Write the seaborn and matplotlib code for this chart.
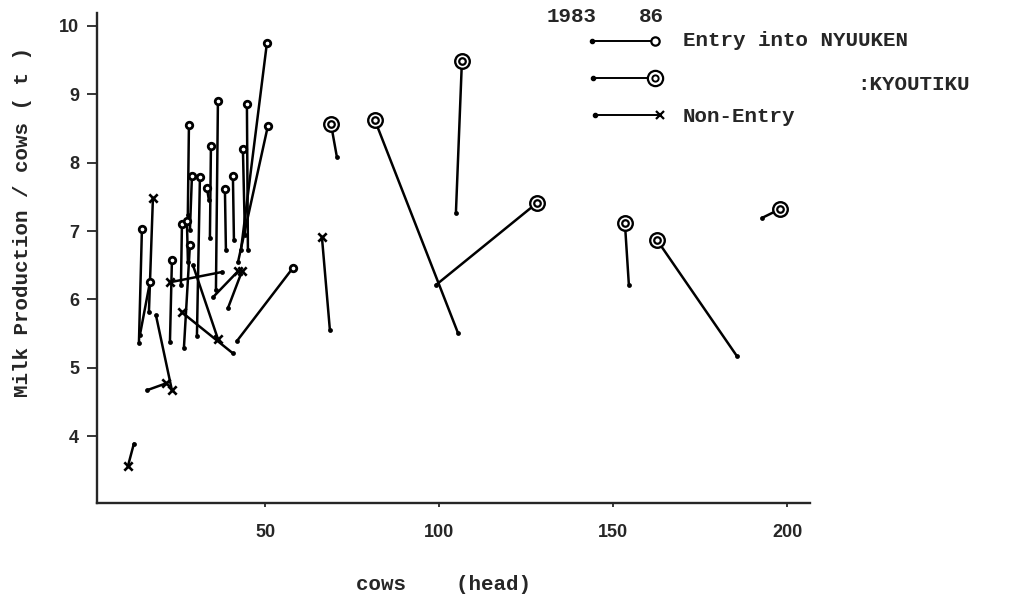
import numpy as np
import pandas as pd
import matplotlib
matplotlib.use("Agg")
import matplotlib.pyplot as plt
from matplotlib.lines import Line2D
import seaborn as sns

# each farm: position in 1983 (start) and 1986 (end)
# cows (head) and milk production per cow (t)
entry_cows_83 = [42.96, 42.10, 44.97, 44.11, 35.78, 27.70, 34.05, 40.95, 25.72, 26.58,
                 27.73, 22.56, 13.65, 13.94, 41.81, 28.30, 30.32, 33.76, 38.65]
entry_milk_83 = [6.72, 6.54, 6.72, 6.94, 6.13, 7.23, 6.90, 6.87, 6.21, 5.29,
                 6.54, 5.37, 5.36, 5.48, 5.39, 7.01, 5.47, 7.45, 6.72]
entry_cows_86 = [50.43, 50.72, 44.68, 43.53, 36.35, 28.02, 34.34, 40.66, 26.01, 28.30,
                 27.44, 23.13, 14.51, 16.81, 57.90, 28.88, 31.18, 33.19, 38.36]
entry_milk_86 = [9.75, 8.54, 8.86, 8.20, 8.90, 8.55, 8.24, 7.80, 7.10, 6.79,
                 7.14, 6.57, 7.03, 6.25, 6.46, 7.80, 7.79, 7.63, 7.61]

kyou_cows_83 = [70.55, 105.32, 104.74, 98.99, 154.45, 185.49, 192.67]
kyou_milk_83 = [8.08, 5.51, 7.26, 6.21, 6.21, 5.17, 7.19]
kyou_cows_86 = [68.82, 81.47, 106.47, 128.02, 153.30, 162.50, 197.84]
kyou_milk_86 = [8.57, 8.62, 9.49, 7.41, 7.12, 6.87, 7.32]

non_cows_83 = [16.52, 12.21, 18.53, 15.95, 29.17, 40.66, 39.22, 34.91, 68.53, 37.50]
non_milk_83 = [5.81, 3.89, 5.77, 4.67, 6.50, 5.21, 5.87, 6.03, 5.55, 6.40]
non_cows_86 = [17.67, 10.49, 23.13, 21.41, 36.35, 26.01, 43.25, 42.10, 66.24, 22.56]
non_milk_86 = [7.48, 3.56, 4.67, 4.77, 5.42, 5.81, 6.41, 6.41, 6.91, 6.25]

x_ticks = [50, 100, 150, 200]
y_ticks = [4, 5, 6, 7, 8, 9, 10]

W, H = 1034, 596
FONT = ["Liberation Mono", "DejaVu Sans Mono"]
TICKFONT = ["Liberation Sans Narrow", "Liberation Sans", "DejaVu Sans"]


def build_frame():
    groups = [
        ("entry", entry_cows_83, entry_milk_83, entry_cows_86, entry_milk_86),
        ("kyoutiku", kyou_cows_83, kyou_milk_83, kyou_cows_86, kyou_milk_86),
        ("non", non_cows_83, non_milk_83, non_cows_86, non_milk_86),
    ]
    rows = []
    for name, c83, m83, c86, m86 in groups:
        for i in range(len(c83)):
            farm = f"{name}_{i}"
            rows.append({"farm": farm, "group": name, "year": 1983, "cows": c83[i], "milk": m83[i]})
            rows.append({"farm": farm, "group": name, "year": 1986, "cows": c86[i], "milk": m86[i]})
    return pd.DataFrame(rows)


def px(x, y):
    # pixel position -> figure fraction
    return x / W, 1 - y / H


df = build_frame()

sns.set_style("ticks")
plt.rcParams["font.family"] = FONT
plt.rcParams["font.weight"] = "bold"

fig = plt.figure(figsize=(W / 100, H / 100), dpi=100)
ax = fig.add_axes([97 / W, 93 / H, 713 / W, 490 / H])

# 1983 -> 1986 segments
sns.lineplot(data=df, x="cows", y="milk", units="farm", estimator=None, sort=False,
             color="black", linewidth=1.8, legend=False, ax=ax)

start = df[df["year"] == 1983]
end = df[df["year"] == 1986]
sns.scatterplot(data=start, x="cows", y="milk", marker="o", s=12, color="black",
                edgecolor="black", linewidth=0, legend=False, ax=ax, zorder=3)

e = end[end["group"] == "entry"]
sns.scatterplot(data=e, x="cows", y="milk", marker="o", s=22, facecolor="white",
                edgecolor="black", linewidth=2.0, legend=False, ax=ax, zorder=4)

k = end[end["group"] == "kyoutiku"]
sns.scatterplot(data=k, x="cows", y="milk", marker="o", s=110, facecolor="white",
                edgecolor="black", linewidth=1.7, legend=False, ax=ax, zorder=4)
sns.scatterplot(data=k, x="cows", y="milk", marker="o", s=22, facecolor="white",
                edgecolor="black", linewidth=1.6, legend=False, ax=ax, zorder=5)

n = end[end["group"] == "non"]
sns.scatterplot(data=n, x="cows", y="milk", marker="x", s=36, color="black",
                linewidth=1.9, legend=False, ax=ax, zorder=4)

ax.set_xlim(1.6, 206.5)
ax.set_ylim(3.02, 10.19)
ax.set_xticks(x_ticks)
ax.set_yticks(y_ticks)
ax.set_xlabel("")
ax.set_ylabel("")
sns.despine(ax=ax)
for s in ["left", "bottom"]:
    ax.spines[s].set_linewidth(1.7)
ax.tick_params(axis="y", length=7, width=1.3, pad=6, labelsize=13)
ax.tick_params(axis="x", length=3, width=1.3, pad=12, labelsize=13)
for lab in ax.get_xticklabels() + ax.get_yticklabels():
    lab.set_family(TICKFONT)
    lab.set_fontweight("bold")

# axis titles
fig.text(*px(23, 222), "Milk Production / cows ( t )", rotation=90,
         ha="center", va="center", size=15)
fig.text(*px(356, 585), "cows    (head)", ha="left", va="center", size=15)

# legend drawn by hand
fig.text(*px(547, 17), "1983", ha="left", va="center", size=15)
fig.text(*px(639, 17), "86", ha="left", va="center", size=15)

rows = [
    (41, 592, 655, dict(marker="o", ms=6, mfc="white", mec="black", mew=1.6)),
    (78, 593, 655, dict(marker="o", ms=11, mfc="white", mec="black", mew=1.6)),
    (115, 595, 660, dict(marker="x", ms=6, mec="black", mew=1.6)),
]
for y, x0, xm, mk in rows:
    (a0, b0), (a1, b1) = px(x0, y), px(xm, y)
    fig.add_artist(Line2D([a0, a1], [b0, b1], transform=fig.transFigure,
                          color="black", lw=1.4))
    fig.add_artist(Line2D([a0], [b0], transform=fig.transFigure, marker="o",
                          ms=3, color="black", lw=0))
    fig.add_artist(Line2D([a1], [b1], transform=fig.transFigure, lw=0, **mk))
a, b = px(655, 78)
fig.add_artist(Line2D([a], [b], transform=fig.transFigure, lw=0, marker="o",
                      ms=4.5, mfc="white", mec="black", mew=1.4))

fig.text(*px(683, 41), "Entry into NYUUKEN", ha="left", va="center", size=15)
fig.text(*px(683, 116), "Non-Entry", ha="left", va="center", size=15)
fig.text(*px(857, 85), ":KYOUTIKU", ha="left", va="center", size=15)

fig.savefig("out.png", dpi=100)
